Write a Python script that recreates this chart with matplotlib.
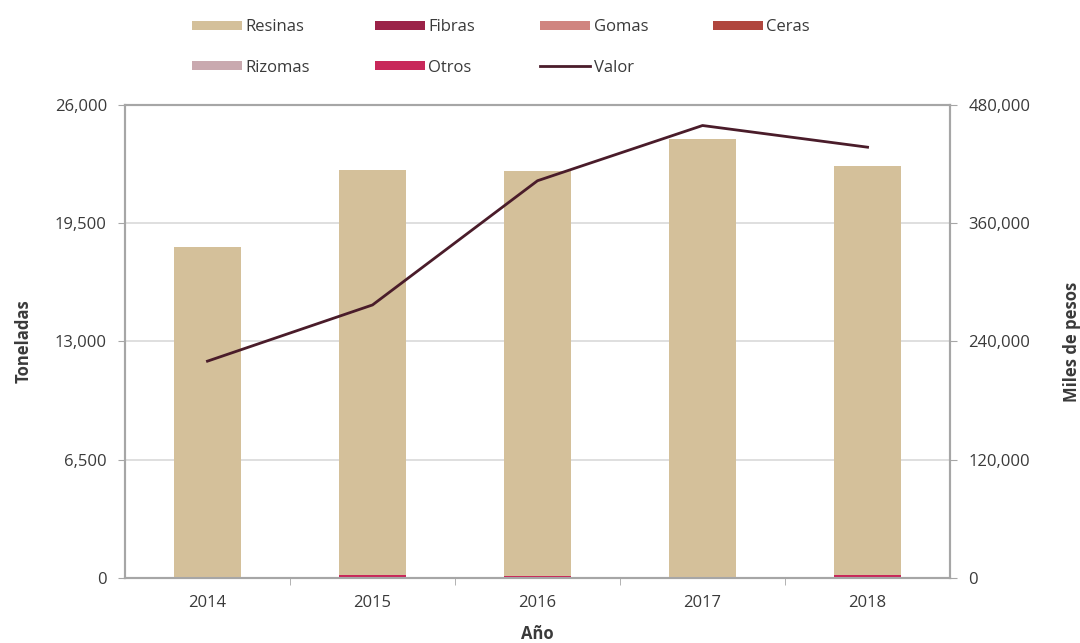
import matplotlib.pyplot as plt
import numpy as np
from matplotlib.ticker import FuncFormatter, FixedLocator

# Datos (toneladas y miles de pesos)
anios = ['2014', '2015', '2016', '2017', '2018']
resinas = [18200, 22250, 22250, 24100, 22450]
fibras = [0, 0, 0, 0, 0]
gomas = [0, 0, 0, 0, 0]
ceras = [0, 0, 0, 0, 0]
rizomas = [0, 0, 0, 0, 0]
otros = [0, 160, 110, 0, 170]
valor = [220000, 277000, 403000, 459000, 437000]

plt.rcParams['font.family'] = ['Open Sans', 'DejaVu Sans']
texto = '#3a3a3a'
gris = '#a6a6a6'

fig = plt.figure(figsize=(10.8, 6.43), dpi=100)
ax = fig.add_axes([0.1157, 0.101, 0.764, 0.736])
ax2 = ax.twinx()

x = np.arange(len(anios))
ancho = 0.41
series = [
    ('Otros', otros, '#c8285a'),
    ('Fibras', fibras, '#9b2248'),
    ('Gomas', gomas, '#d08580'),
    ('Ceras', ceras, '#b0463e'),
    ('Rizomas', rizomas, '#c9a9af'),
    ('Resinas', resinas, '#d4c09a'),
]
handles = {}
base = np.zeros(len(anios))
for nombre, vals, color in series:
    b = ax.bar(x, vals, ancho, bottom=base, color=color, zorder=3, label=nombre)
    handles[nombre] = b
    base = base + np.array(vals)

linea, = ax2.plot(x, valor, color='#4a1c2a', lw=2, zorder=4, label='Valor')
handles['Valor'] = linea

ax.set_xlim(-0.5, 4.5)
ax.set_ylim(0, 26000)
ax2.set_ylim(0, 480000)
ax.set_yticks([0, 6500, 13000, 19500, 26000])
ax2.set_yticks([0, 120000, 240000, 360000, 480000])
fmt = FuncFormatter(lambda v, p: f'{int(v):,}')
ax.yaxis.set_major_formatter(fmt)
ax2.yaxis.set_major_formatter(fmt)

ax.set_xticks(x)
ax.set_xticklabels(anios)
ax.xaxis.set_minor_locator(FixedLocator([0.5, 1.5, 2.5, 3.5]))
ax.tick_params(axis='x', which='major', length=0, pad=12, labelsize=12, colors=texto)
ax.tick_params(axis='x', which='minor', length=5, color=gris)
ax.tick_params(axis='y', length=5, color=gris, labelsize=12, labelcolor=texto, pad=8)
ax2.tick_params(axis='y', length=5, color=gris, labelsize=12, labelcolor=texto, pad=8)

ax.grid(axis='y', color='#d9d9d9', lw=1.2, zorder=0)
for a in (ax, ax2):
    for s in a.spines.values():
        s.set_color(gris)
        s.set_linewidth(1.5)

ax.set_xlabel('Año', fontsize=12, fontweight='bold', color=texto, labelpad=10)
ax.set_ylabel('Toneladas', fontsize=12, fontweight='bold', color=texto, labelpad=16)
ax2.set_ylabel('Miles de pesos', fontsize=12, fontweight='bold', color=texto, labelpad=24)

orden = ['Resinas', 'Rizomas', 'Fibras', 'Otros', 'Gomas', 'Valor', 'Ceras']
fig.legend([handles[n] for n in orden], orden, loc='center', ncol=4,
           bbox_to_anchor=(0.464, 0.926), frameon=False, fontsize=12,
           handlelength=3.0, handleheight=0.45, handletextpad=0.2,
           columnspacing=3.9, labelspacing=1.45, labelcolor=texto)

fig.savefig('out.png', dpi=100)
